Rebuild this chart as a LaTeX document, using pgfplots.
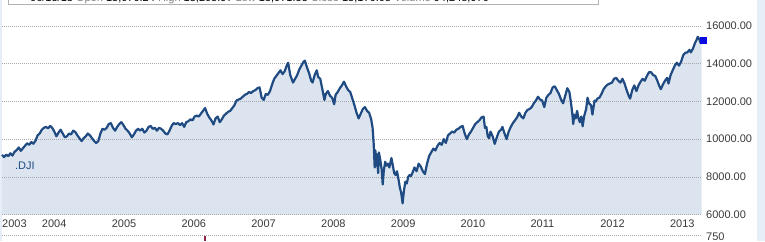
\documentclass[border=0pt]{standalone}
\usepackage{pgfplots}
\pgfplotsset{compat=1.18}
\usepackage{pgfplotstable}
\usepackage{fontspec}
\setmainfont{Liberation Sans}
\definecolor{djiline}{HTML}{1F4B82}
\definecolor{djifill}{HTML}{DCE5EF}
\definecolor{gridc}{HTML}{A8A8A8}
\definecolor{txt}{HTML}{3A3A3A}
\definecolor{side}{HTML}{E6EEF7}
\definecolor{volred}{HTML}{8E2440}
\definecolor{mk}{HTML}{0A0AE0}

\pgfplotstableread{
x y
2003.43 9170
2003.46 9050
2003.49 9180
2003.52 9100
2003.55 9250
2003.58 9130
2003.61 9330
2003.64 9420
2003.67 9560
2003.70 9380
2003.73 9520
2003.76 9650
2003.79 9780
2003.82 9700
2003.85 9850
2003.88 9760
2003.91 9920
2003.94 10200
2003.97 10300
2004.00 10500
2004.03 10600
2004.06 10650
2004.09 10580
2004.12 10700
2004.15 10600
2004.18 10400
2004.21 10150
2004.24 10350
2004.27 10500
2004.30 10300
2004.33 10100
2004.36 10150
2004.39 10300
2004.42 10250
2004.45 10450
2004.48 10380
2004.51 10200
2004.54 10050
2004.57 9900
2004.60 10050
2004.63 10150
2004.66 10300
2004.69 10200
2004.72 10050
2004.75 9900
2004.78 9800
2004.81 9900
2004.84 10300
2004.87 10550
2004.90 10500
2004.93 10600
2004.96 10800
2004.99 10850
2005.02 10600
2005.05 10450
2005.08 10650
2005.11 10800
2005.14 10900
2005.17 10750
2005.20 10550
2005.23 10450
2005.26 10300
2005.29 10100
2005.32 10250
2005.35 10450
2005.38 10550
2005.41 10450
2005.44 10550
2005.47 10350
2005.50 10450
2005.53 10650
2005.56 10700
2005.59 10550
2005.62 10600
2005.65 10450
2005.68 10600
2005.71 10550
2005.74 10450
2005.77 10300
2005.80 10250
2005.83 10450
2005.86 10700
2005.89 10850
2005.92 10800
2005.95 10850
2005.98 10750
2006.01 10850
2006.04 10650
2006.07 10900
2006.10 10950
2006.13 11050
2006.16 11000
2006.19 11200
2006.22 11250
2006.25 11200
2006.28 11350
2006.31 11500
2006.34 11650
2006.37 11350
2006.40 11150
2006.43 11000
2006.46 10780
2006.49 11100
2006.52 11200
2006.55 10900
2006.58 11050
2006.61 11250
2006.64 11350
2006.67 11450
2006.70 11500
2006.73 11650
2006.76 11800
2006.79 12050
2006.82 12100
2006.85 12150
2006.88 12250
2006.91 12350
2006.94 12400
2006.97 12500
2007.00 12450
2007.03 12550
2007.06 12600
2007.09 12700
2007.12 12750
2007.15 12200
2007.18 12080
2007.21 12400
2007.24 12350
2007.27 12550
2007.30 12900
2007.33 13200
2007.36 13350
2007.39 13500
2007.42 13650
2007.45 13450
2007.48 13600
2007.51 13900
2007.53 14050
2007.56 13400
2007.60 13000
2007.63 13200
2007.66 13400
2007.69 13700
2007.72 13900
2007.75 14100
2007.77 14160
2007.80 13800
2007.83 13500
2007.86 13100
2007.88 13000
2007.91 13400
2007.94 13650
2007.96 13300
2007.99 13200
2008.02 12650
2008.05 12080
2008.07 12400
2008.10 12550
2008.13 12300
2008.16 12200
2008.19 11850
2008.21 12350
2008.24 12500
2008.27 12700
2008.30 12850
2008.33 13050
2008.36 12800
2008.39 12600
2008.42 12500
2008.45 12150
2008.48 11800
2008.51 11400
2008.54 11100
2008.57 11350
2008.60 11600
2008.63 11700
2008.66 11500
2008.69 11400
2008.72 11050
2008.74 10600
2008.755 9800
2008.76 9400
2008.77 8500
2008.78 9400
2008.79 8600
2008.80 9200
2008.82 8200
2008.83 9300
2008.85 8900
2008.87 8400
2008.885 7600
2008.90 8300
2008.92 8800
2008.94 8600
2008.96 8700
2008.98 8500
2009.01 9000
2009.03 8600
2009.05 8200
2009.07 8100
2009.09 8300
2009.11 7900
2009.13 7450
2009.15 7150
2009.17 6600
2009.19 7300
2009.21 7750
2009.23 7650
2009.25 8000
2009.27 8100
2009.29 8050
2009.31 8200
2009.34 8500
2009.37 8300
2009.40 8700
2009.43 8550
2009.46 8300
2009.49 8150
2009.52 8700
2009.55 9100
2009.58 9300
2009.61 9500
2009.64 9400
2009.67 9650
2009.70 9800
2009.73 9700
2009.76 10000
2009.79 9800
2009.82 10200
2009.85 10300
2009.88 10400
2009.91 10350
2009.94 10500
2009.97 10550
2010.00 10650
2010.03 10700
2010.06 10300
2010.09 10000
2010.12 10250
2010.15 10400
2010.18 10600
2010.21 10800
2010.24 10900
2010.27 11000
2010.30 11150
2010.33 11200
2010.35 10600
2010.37 10650
2010.39 10150
2010.41 10050
2010.43 10400
2010.46 10150
2010.49 9750
2010.52 10100
2010.55 10400
2010.58 10500
2010.60 10650
2010.63 10300
2010.66 10000
2010.69 10400
2010.72 10650
2010.75 10850
2010.78 11000
2010.81 11150
2010.84 11400
2010.87 11200
2010.90 11100
2010.93 11400
2010.96 11550
2010.99 11600
2011.02 11700
2011.05 11900
2011.08 12050
2011.11 12250
2011.14 12100
2011.17 12050
2011.20 11700
2011.23 12200
2011.26 12350
2011.29 12450
2011.32 12750
2011.35 12800
2011.38 12600
2011.41 12400
2011.44 12100
2011.47 11900
2011.50 12300
2011.53 12700
2011.56 12500
2011.58 12000
2011.60 11400
2011.615 10800
2011.63 11300
2011.65 11100
2011.67 11500
2011.69 11100
2011.71 10900
2011.73 11200
2011.75 10680
2011.77 11200
2011.80 11600
2011.82 12200
2011.84 11900
2011.87 11800
2011.89 11300
2011.92 12050
2011.94 12000
2011.96 12150
2011.99 12200
2012.02 12400
2012.05 12650
2012.08 12800
2012.11 12900
2012.14 12950
2012.17 13000
2012.20 13200
2012.23 13250
2012.26 13100
2012.29 13000
2012.32 13200
2012.35 12950
2012.38 12600
2012.41 12300
2012.43 12150
2012.46 12600
2012.49 12850
2012.52 12550
2012.55 12850
2012.58 13050
2012.61 13200
2012.64 13100
2012.67 13350
2012.70 13550
2012.73 13550
2012.76 13400
2012.79 13350
2012.82 13100
2012.85 12800
2012.87 12650
2012.90 12900
2012.93 13100
2012.96 13250
2012.98 12950
2013.01 13400
2013.04 13650
2013.07 13900
2013.10 14050
2013.13 13900
2013.16 14100
2013.19 14450
2013.22 14580
2013.25 14600
2013.28 14740
2013.30 14600
2013.33 14800
2013.36 15100
2013.38 15250
2013.40 15430
2013.42 15300
2013.44 15100
2013.455 15150
}\dji

\pgfplotsset{
  djiframe/.style={
    at={(2pt,26.4pt)}, anchor=south west,
    scale only axis, width=700pt, height=188.6pt,
    xmin=2003.43, xmax=2013.46, ymin=6000, ymax=16000,
    axis line style={draw=none}, major tick length=0pt,
  }
}

\begin{document}
\begin{tikzpicture}
\fill[side] (757pt,0pt) rectangle (765pt,241pt);
\fill[side] (0pt,0pt) rectangle (1.5pt,241pt);
% cut-off quote box at the top (overlay: outside the page)
\draw[overlay, gray!60, line width=0.8pt] (8pt,262pt) -- (8pt,237pt) -- (598pt,237pt) -- (598pt,262pt);
\node[overlay, anchor=base west, inner sep=0pt, font=\fontsize{11}{13}\selectfont, text=black] at (30pt,239.6pt)
  {06/13/13 \textcolor{gray}{Open} 15,070.24 \textcolor{gray}{High} 15,205.97 \textcolor{gray}{Low} 15,071.55 \textcolor{gray}{Close} 15,176.08 \textcolor{gray}{Volume} 94,248,970};
% area under the curve
\begin{axis}[djiframe, xtick=\empty, ytick=\empty, clip=true]
\addplot[draw=none, fill=djifill] table[x=x,y=y]{\dji} \closedcycle;
\end{axis}
% grid, labels and the line
\begin{axis}[djiframe, clip=false,
  ytick={6000,8000,10000,12000,14000,16000},
  ymajorgrids,
  grid style={gridc, dash pattern=on 1pt off 1pt, line width=0.7pt},
  scaled y ticks=false,
  yticklabel pos=right,
  tick label style={font=\fontsize{11}{13}\selectfont, text=txt},
  yticklabel style={anchor=west, inner sep=0pt, xshift=4pt,
    /pgf/number format/fixed, /pgf/number format/fixed zerofill,
    /pgf/number format/precision=2, /pgf/number format/1000 sep={},
    /pgf/number format/assume math mode=true},
  xtick={2003.43,2004,2005,2006,2007,2008,2009,2010,2011,2012,2013},
  xticklabels={2003,2004,2005,2006,2007,2008,2009,2010,2011,2012,2013},
  xticklabel style={anchor=base west, inner sep=0pt, yshift=-12.4pt},
]
\addplot[djiline, line width=2.2pt, line join=round] table[x=x,y=y]{\dji};
\addplot[only marks, mark=square*, mark size=2.7pt, mark options={draw=mk, fill=mk}] coordinates {(2013.475,15250)};
\node[anchor=base west, inner sep=0pt, font=\fontsize{11}{13}\selectfont, text=djiline] at (axis cs:2003.616,8402) {.DJI};
\end{axis}
% volume panel (cut off at the bottom)
\begin{axis}[
  at={(2pt,0pt)}, anchor=south west,
  scale only axis, width=700pt, height=5.5pt,
  xmin=2003.43, xmax=2013.46, ymin=0, ymax=750,
  clip=false, axis line style={draw=none}, major tick length=0pt,
  xtick=\empty, ytick={750}, ymajorgrids,
  grid style={gridc, dash pattern=on 1pt off 1pt, line width=0.7pt},
  yticklabel pos=right,
  tick label style={font=\fontsize{11}{13}\selectfont, text=txt},
  yticklabel style={anchor=west, inner sep=0pt, xshift=4pt, yshift=-1pt,
    /pgf/number format/assume math mode=true},
]
\addplot[ycomb, volred, line width=1.3pt] coordinates {(2006.338,640)};
\end{axis}
\end{tikzpicture}
\end{document}
